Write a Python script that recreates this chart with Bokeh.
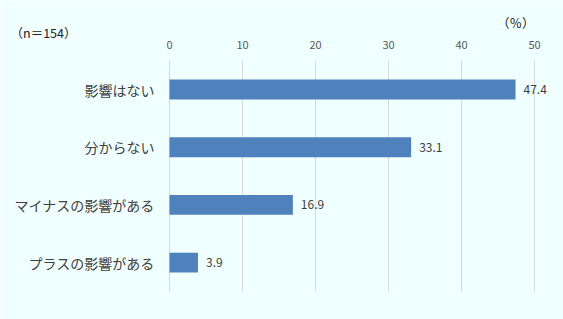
from bokeh.plotting import figure
from bokeh.models import ColumnDataSource, Range1d
from bokeh.embed import file_html
from bokeh.resources import INLINE
from bokeh.core.properties import value

categories = ["影響はない", "分からない", "マイナスの影響がある", "プラスの影響がある"]
values = [47.4, 33.1, 16.9, 3.9]
ticks = [0, 10, 20, 30, 40, 50]
tick_labels = ["0", "10", "20", "30", "40", "50"]
note_n = "（n＝154）"
note_unit = "（％）"

W, H = 563, 319
BG = "#F0FFFF"
FONT = "Noto Sans CJK JP"

# layout of the plotting area in pixels
PX0, PX50 = 169, 534          # x pixel of value 0 and value 50
ROW_TOP, ROW_STEP = 89, 57.7   # pixel centre of first row, row spacing
px_per_unit = (PX50 - PX0) / 50.0
x_start = -PX0 / px_per_unit
x_end = (W - PX0) / px_per_unit
n = len(categories)
top_y = n - 1
y_end = top_y + ROW_TOP / ROW_STEP
y_start = y_end - H / ROW_STEP

def px_to_y(py):
    return y_end - py / ROW_STEP

def px_to_x(px):
    return (px - PX0) / px_per_unit

ypos = [top_y - i for i in range(n)]
src = ColumnDataSource(dict(y=ypos, val=values, cat=categories,
                            lab=["%.1f" % v for v in values]))

p = figure(width=W, height=H, output_backend="svg", toolbar_location=None,
           x_range=Range1d(x_start, x_end), y_range=Range1d(y_start, y_end),
           min_border=0)
p.background_fill_color = BG
p.border_fill_color = BG
p.outline_line_color = None
p.xaxis.visible = False
p.yaxis.visible = False
p.grid.grid_line_color = None

# vertical grid lines over the category band
p.segment(x0=ticks, x1=ticks, y0=[-0.5] * len(ticks), y1=[top_y + 0.5] * len(ticks),
          line_color="#D9D9D9", line_width=1)

# bars
p.hbar(y="y", right="val", left=0, height=0.345, source=src,
       fill_color="#4F81BD", line_color=None)

# value labels
p.text(x="val", y="y", text="lab", source=src, x_offset=8, text_baseline="middle",
       text_align="left", text_font=value(FONT), text_font_size="12px", text_color="#404040")

# category labels
p.text(x=[0] * n, y=ypos, text=categories, x_offset=-15, text_baseline="middle",
       text_align="right", text_font=value(FONT), text_font_size="14px", text_color="#404040")

# tick labels on top
p.text(x=ticks, y=[px_to_y(44)] * len(ticks), text=tick_labels, text_baseline="middle",
       text_align="center", text_font=value(FONT), text_font_size="11px", text_color="#595959")

# notes
p.text(x=[px_to_x(10)], y=[px_to_y(32)], text=[note_n], text_baseline="middle",
       text_align="left", text_font=value(FONT), text_font_size="12.5px", text_color="#202020")
p.text(x=[px_to_x(534)], y=[px_to_y(22)], text=[note_unit], text_baseline="middle",
       text_align="right", text_font=value(FONT), text_font_size="12.5px", text_color="#202020")

open("out.html", "w").write(file_html(p, INLINE))
